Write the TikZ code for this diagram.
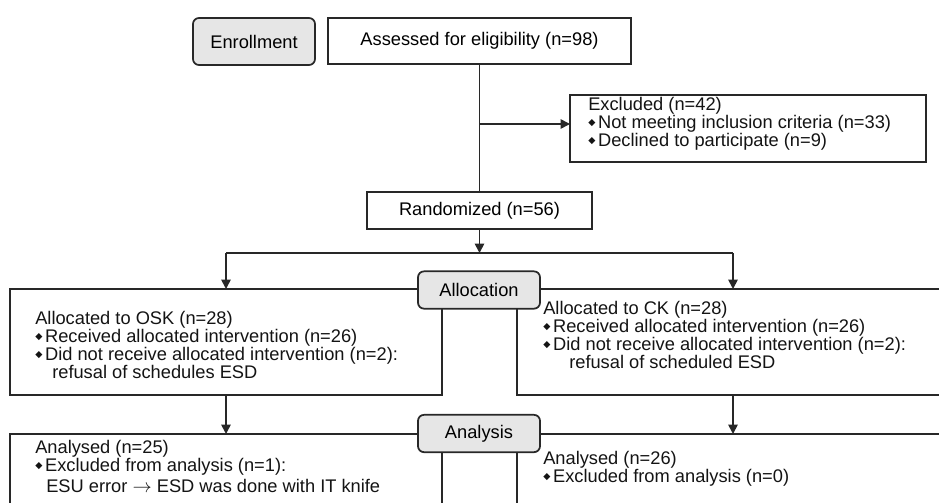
\documentclass[tikz,border=0pt]{standalone}
\usepackage{fontspec}
\setmainfont{Liberation Sans}
\newfontfamily\dejavu{DejaVu Sans}
\usetikzlibrary{arrows.meta,positioning}
\definecolor{ink}{RGB}{40,40,40}
\definecolor{stagegray}{RGB}{230,230,230}
\newcommand{\dbul}{\makebox[7.4pt][l]{\raisebox{2.3pt}{\dejavu\fontsize{7}{7}\selectfont ◆}}}
\tikzset{
  cbox/.style={draw=ink,line width=1.3pt,fill=white,inner sep=0pt,outer sep=0pt,align=center},
  stage/.style={cbox,fill=stagegray,rounded corners=4.5pt,minimum width=91.5pt,minimum height=28pt},
  txt/.style={anchor=north west,inner sep=0pt,align=left,text=black!92},
  arr/.style={-{Triangle[length=7pt,width=7pt]},draw=ink,line width=1.3pt},
  link/.style={draw=ink,line width=1.3pt}
}

\begin{document}
\begin{tikzpicture}[x=0.75pt,y=-0.75pt,font=\fontsize{13.7}{13.4}\selectfont]
  \useasboundingbox (0,0) rectangle (939,503);
  \clip (0,0) rectangle (939,503);
  \node[stage,minimum height=35.25pt] (enr) at (254,41.5) {Enrollment};
  \node[cbox,minimum width=227.25pt,minimum height=34.5pt] (asse) at (479.5,41) {Assessed for eligibility (n=98)};
  \node[cbox,minimum width=267pt,minimum height=50.25pt] (excl) at (748,128.5) {};
  \node[cbox,minimum width=168.75pt,minimum height=27.75pt] (rand) at (479.5,210.5) {Randomized (n=56)};
  \node[cbox,minimum width=324pt,minimum height=79.5pt] (osk) at (226,342) {};
  \node[cbox,minimum width=324pt,minimum height=79.5pt] (ck) at (733,342) {};
  \node[cbox,minimum width=324pt,minimum height=82.5pt] (anl) at (226,489) {};
  \node[cbox,minimum width=324pt,minimum height=82.5pt] (anr) at (733,489) {};

  \node[txt] (excltxt) at (588,97) {Excluded (n=42)\\\dbul Not meeting inclusion criteria (n=33)\\\dbul Declined to participate (n=9)};
  \node[txt] (osktxt) at (35,311) {Allocated to OSK (n=28)\\\dbul Received allocated intervention (n=26)\\\dbul Did not receive allocated intervention (n=2):\\\hspace*{12.75pt}refusal of schedules ESD};
  \node[txt] (cktxt) at (543,301) {Allocated to CK (n=28)\\\dbul Received allocated intervention (n=26)\\\dbul Did not receive allocated intervention (n=2):\\\hspace*{19.5pt}refusal of scheduled ESD};
  \node[txt] (anltxt) at (35,440) {Analysed (n=25)\\\dbul Excluded from analysis (n=1):\\[2.5pt]\hspace*{8.25pt}ESU error $\rightarrow$ ESD was done with IT knife};
  \node[txt] (anrtxt) at (543,451) {Analysed (n=26)\\\dbul Excluded from analysis (n=0)};

  \coordinate (split) at (479.5,124);
  \coordinate (fork) at (479.5,253);
  \draw[link] (asse) -- (rand);
  \draw[arr] (split) -- (split -| excl.west);
  \draw[arr] (rand) -- (fork);
  \draw[link] (fork -| osk) -- (fork -| ck);
  \draw[arr] (fork -| osk) -- (osk);
  \draw[arr] (fork -| ck) -- (ck);
  \draw[arr] (osk) -- (anl);
  \draw[arr] (ck) -- (anr);

  \node[stage] (alloc) at (479,290) {Allocation};
  \node[stage] (anal) at (479,433.5) {Analysis};
\end{tikzpicture}
\end{document}
